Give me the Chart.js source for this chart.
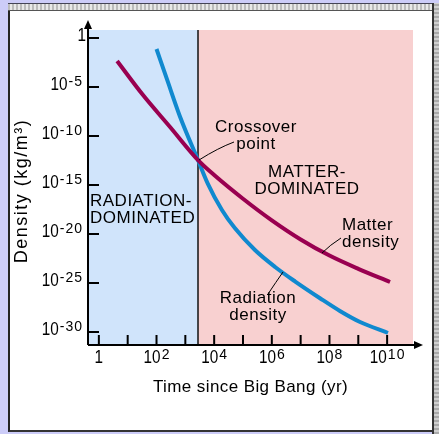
<!DOCTYPE html>
<html>
<head>
<meta charset="utf-8">
<script src="https://cdn.jsdelivr.net/npm/chart.js@4"></script>
<style>
  html, body { margin: 0; padding: 0; }
  body { width: 439px; height: 434px; background: #ccccf8; position: relative; overflow: hidden; }
  #topbar { position: absolute; left: 8px; right: 0; top: 3px; height: 6px;
    border-top: 1px solid #445; border-bottom: 1px solid #555;
    background: repeating-linear-gradient(90deg, #bbb 0 2px, #e8e8e8 2px 4px); }
  #rightbar { position: absolute; left: 432px; right: 0; top: 3px; bottom: 0;
    border-left: 2px solid #333;
    background: repeating-linear-gradient(0deg, #aaa 0 2px, #d0d0d0 2px 4px); }
  #panel { position: absolute; left: 8px; top: 11px; width: 422px; height: 419px;
    background: #fff; border-left: 2px solid #222; border-bottom: 2px solid #333; }
  canvas { position: absolute; left: 0; top: 0; }
</style>
</head>
<body>
<div id="topbar"></div>
<div id="rightbar"></div>
<div id="panel"></div>
<canvas id="canvas" width="439" height="434"></canvas>
<script>
// values (time in yr, density in kg/m^3)
const matterTime = [4.3, 34, 295, 2750, 1.0e4, 1.0e5, 1.0e6, 1.0e7, 1.0e8, 1.0e9, 1.26e10];
const matterDensity = [4.5e-3, 1.5e-6, 8.3e-10, 3.5e-13, 1.05e-14, 4.0e-17, 2.5e-19, 2.8e-21, 6.3e-23, 2.8e-24, 1.26e-25];
const radiationTime = [100, 230, 650, 2750, 6.0e3, 1.86e4, 5.2e4, 2.6e5, 1.3e6, 6.5e6, 4.7e7, 2.3e8, 1.15e9, 1.07e10];
const radiationDensity = [7.6e-2, 6.3e-5, 1.0e-8, 3.5e-13, 1.4e-15, 2.8e-18, 4.0e-20, 2.3e-22, 4.3e-24, 1.4e-25, 2.8e-27, 1.4e-28, 1.05e-29, 7.9e-31];
const crossoverTime = 2750;

const xTicks = [1, 1e1, 1e2, 1e3, 1e4, 1e5, 1e6, 1e7, 1e8, 1e9, 1e10];
const xTickLabels = ["1", "", "10^2", "", "10^4", "", "10^6", "", "10^8", "", "10^10"];
const yTicks = [1, 1e-5, 1e-10, 1e-15, 1e-20, 1e-25, 1e-30];
const yTickLabels = ["1", "10^-5", "10^-10", "10^-15", "10^-20", "10^-25", "10^-30"];
const xTitle = "Time since Big Bang (yr)";
const yTitle = "Density (kg/m³)";

let matterColor = "#990050";
let radiationColor = "#1089cf";
let blueShade = "#d0e4fb";
let pinkShade = "#f8d0d0";
const fontFam = "'Liberation Sans', Arial, sans-serif";

// text notes on the plot (pixel positions)
const notes = [
  { lines: ["RADIATION-", "DOMINATED"], x: 90, y: 201, align: "left" },
  { lines: ["MATTER-", "DOMINATED"], x: 307, y: 172, align: "center" },
  { lines: ["Crossover", "point"], x: 256, y: 127, align: "center" },
  { lines: ["Matter", "density"], x: 342, y: 225, align: "left" },
  { lines: ["Radiation", "density"], x: 258, y: 298, align: "center" },
];
const leaders = [
  [199, 160, 218, 148, 234, 142],
  [322, 253, 330, 245, 341, 238],
  [283, 272, 276, 282, 268, 294],
];

// draws "10^n" as base + raised exponent, squeezed like the original type
function powerLabel(ctx, label, x, y, align) {
  const [base, exp] = label.split("^");
  const sx = 0.85;
  ctx.font = "18px " + fontFam;
  const wb = ctx.measureText(base).width * sx;
  let we = 0;
  if (exp) {
    ctx.font = "14px " + fontFam;
    ctx.letterSpacing = "1px";
    we = ctx.measureText(exp).width;
    ctx.letterSpacing = "0px";
  }
  const w = wb + we;
  const left = align === "right" ? x - w : x - w / 2;
  ctx.save();
  ctx.translate(left, y);
  ctx.scale(sx, 1);
  ctx.font = "18px " + fontFam;
  ctx.textAlign = "left";
  ctx.textBaseline = "middle";
  ctx.fillText(base, 0, 0);
  ctx.restore();
  if (exp) {
    ctx.font = "14px " + fontFam;
    ctx.letterSpacing = "1px";
    ctx.textAlign = "left";
    ctx.textBaseline = "middle";
    ctx.fillText(exp, left + wb + 1, y - 3);
    ctx.letterSpacing = "0px";
  }
}

const decor = {
  id: "decor",
  beforeDatasetsDraw(chart) {
    const { ctx, chartArea: a, scales } = chart;
    const xc = scales.x.getPixelForValue(crossoverTime);
    ctx.save();
    ctx.fillStyle = blueShade;
    ctx.fillRect(a.left, a.top, xc - a.left, a.bottom - a.top);
    ctx.fillStyle = pinkShade;
    ctx.fillRect(xc, a.top, a.right - xc, a.bottom - a.top);
    ctx.strokeStyle = "#111";
    ctx.lineWidth = 1.5;
    ctx.beginPath();
    ctx.moveTo(xc, a.top);
    ctx.lineTo(xc, a.bottom);
    ctx.stroke();
    ctx.restore();
  },
  afterDatasetsDraw(chart) {
    const { ctx, chartArea: a, scales } = chart;
    ctx.save();
    ctx.strokeStyle = "#000";
    ctx.fillStyle = "#000";
    ctx.lineWidth = 2;
    // axes with arrow heads
    ctx.beginPath();
    ctx.moveTo(a.left, a.bottom);
    ctx.lineTo(a.left, a.top - 6);
    ctx.moveTo(a.left, a.bottom);
    ctx.lineTo(a.right + 6, a.bottom);
    ctx.stroke();
    ctx.beginPath();
    ctx.moveTo(a.left, a.top - 10);
    ctx.lineTo(a.left - 4, a.top - 1);
    ctx.lineTo(a.left + 4, a.top - 1);
    ctx.fill();
    ctx.beginPath();
    ctx.moveTo(a.right + 10, a.bottom);
    ctx.lineTo(a.right + 1, a.bottom - 4);
    ctx.lineTo(a.right + 1, a.bottom + 4);
    ctx.fill();
    // inside tick marks and labels
    ctx.beginPath();
    scales.x.ticks.forEach(t => {
      const px = scales.x.getPixelForValue(t.value);
      ctx.moveTo(px, a.bottom);
      ctx.lineTo(px, a.bottom - 10);
    });
    scales.y.ticks.forEach(t => {
      const py = scales.y.getPixelForValue(t.value);
      ctx.moveTo(a.left, py);
      ctx.lineTo(a.left + 11, py);
    });
    ctx.stroke();
    scales.x.ticks.forEach((t, i) => {
      if (xTickLabels[i]) powerLabel(ctx, xTickLabels[i], scales.x.getPixelForValue(t.value), a.bottom + 13, "center");
    });
    scales.y.ticks.forEach((t, i) => {
      const lbl = yTickLabels[i];
      powerLabel(ctx, lbl, a.left - (lbl === "1" ? 2 : 6), scales.y.getPixelForValue(t.value) - 2, "right");
    });
    // axis titles
    ctx.textAlign = "center";
    ctx.textBaseline = "middle";
    ctx.font = "17px " + fontFam;
    ctx.letterSpacing = "0.4px";
    ctx.fillText(xTitle, (a.left + a.right) / 2, 387);
    ctx.save();
    ctx.translate(22, 191);
    ctx.rotate(-Math.PI / 2);
    ctx.font = "18px " + fontFam;
    ctx.letterSpacing = "1.5px";
    ctx.fillText(yTitle, 0, 0);
    ctx.restore();
    // leader lines
    ctx.lineWidth = 1;
    leaders.forEach(l => {
      ctx.beginPath();
      ctx.moveTo(l[0], l[1]);
      ctx.quadraticCurveTo(l[2], l[3], l[4], l[5]);
      ctx.stroke();
    });
    // notes
    ctx.font = "17px " + fontFam;
    ctx.letterSpacing = "0.5px";
    ctx.textBaseline = "middle";
    notes.forEach(n => {
      ctx.textAlign = n.align;
      n.lines.forEach((s, i) => ctx.fillText(s, n.x, n.y + i * 17));
    });
    ctx.restore();
  },
};

const ctx = document.getElementById("canvas").getContext("2d");
const myChart = new Chart(ctx, {
  type: "line",
  data: {
    datasets: [
      {
        label: "Matter density",
        data: matterTime.map((t, i) => ({ x: t, y: matterDensity[i] })),
        borderColor: matterColor,
        borderWidth: 4,
        pointRadius: 0,
        cubicInterpolationMode: "monotone",
      },
      {
        label: "Radiation density",
        data: radiationTime.map((t, i) => ({ x: t, y: radiationDensity[i] })),
        borderColor: radiationColor,
        borderWidth: 4,
        pointRadius: 0,
        cubicInterpolationMode: "monotone",
      },
    ],
  },
  options: {
    responsive: false,
    animation: false,
    layout: { padding: { left: 0, top: 30, right: 26, bottom: 0 } },
    plugins: { legend: { display: false }, tooltip: { enabled: false } },
    scales: {
      x: {
        type: "logarithmic",
        bounds: "data",
        min: 0.42,
        max: 7.9e10,
        grid: { display: false, drawTicks: false },
        border: { display: false },
        afterBuildTicks: s => { s.ticks = xTicks.map(v => ({ value: v })); },
        afterFit: s => { s.height = 89; },
        ticks: { display: false },
        title: { display: false, text: xTitle },
      },
      y: {
        type: "logarithmic",
        bounds: "data",
        min: 4.7e-32,
        max: 6.6,
        grid: { display: false, drawTicks: false },
        border: { display: false },
        afterBuildTicks: s => { s.ticks = yTicks.map(v => ({ value: v })); },
        afterFit: s => { s.width = 88; },
        ticks: { display: false },
        title: { display: false, text: yTitle },
      },
    },
  },
  plugins: [decor],
});
</script>
</body>
</html>
